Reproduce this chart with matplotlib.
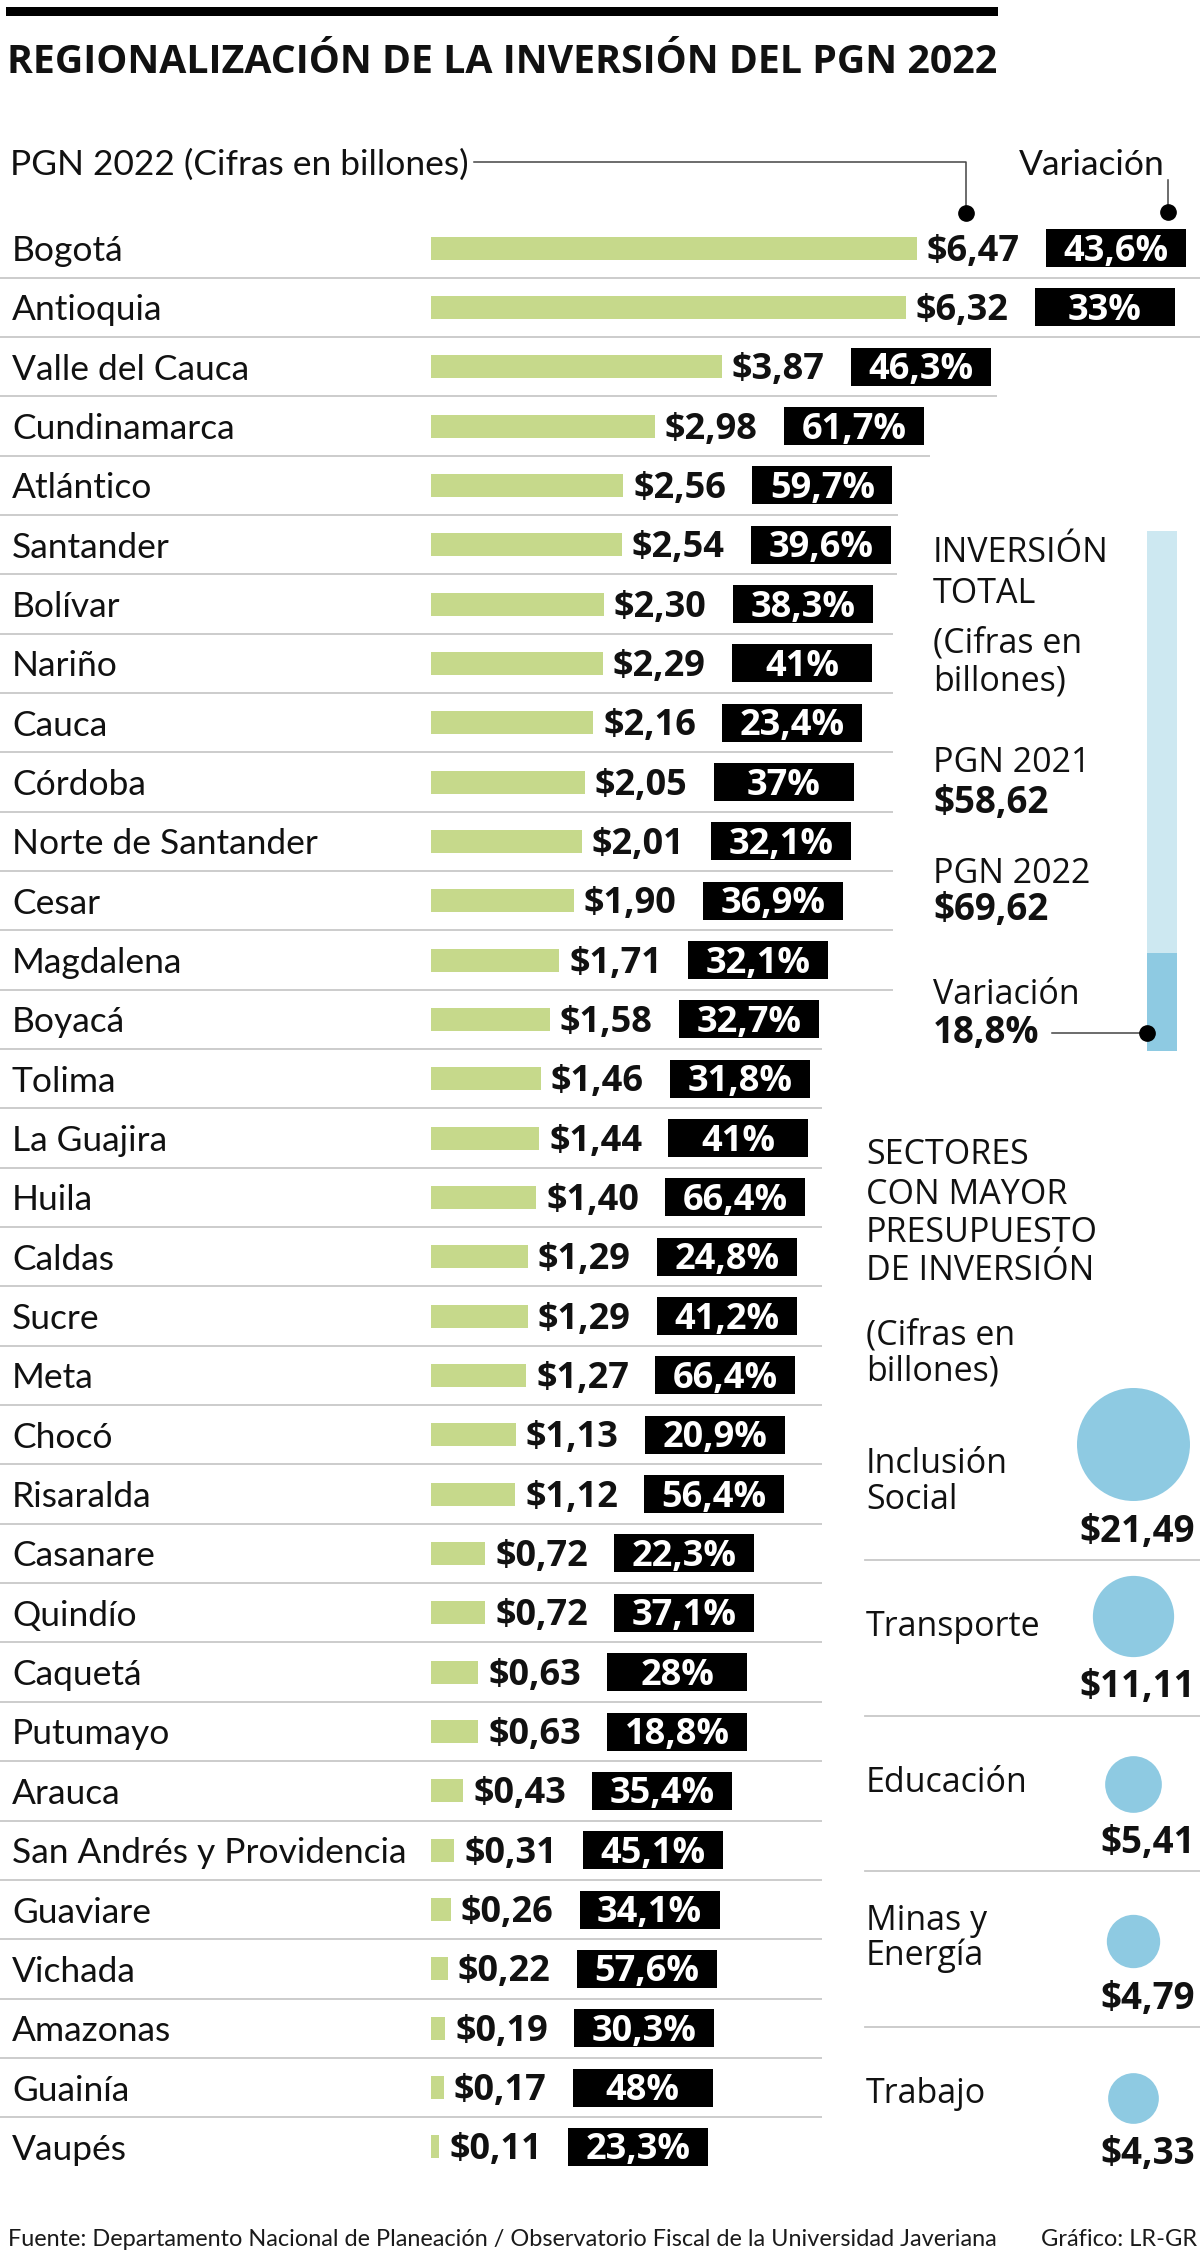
import matplotlib
matplotlib.use("Agg")
import matplotlib.pyplot as plt
from matplotlib.patches import Rectangle

# datos
regiones = ["Bogotá", "Antioquia", "Valle del Cauca", "Cundinamarca", "Atlántico",
            "Santander", "Bolívar", "Nariño", "Cauca", "Córdoba", "Norte de Santander",
            "Cesar", "Magdalena", "Boyacá", "Tolima", "La Guajira", "Huila", "Caldas",
            "Sucre", "Meta", "Chocó", "Risaralda", "Casanare", "Quindío", "Caquetá",
            "Putumayo", "Arauca", "San Andrés y Providencia", "Guaviare", "Vichada",
            "Amazonas", "Guainía", "Vaupés"]
pgn_2022 = [6.47, 6.32, 3.87, 2.98, 2.56, 2.54, 2.30, 2.29, 2.16, 2.05, 2.01,
            1.90, 1.71, 1.58, 1.46, 1.44, 1.40, 1.29, 1.29, 1.27, 1.13, 1.12,
            0.72, 0.72, 0.63, 0.63, 0.43, 0.31, 0.26, 0.22, 0.19, 0.17, 0.11]
variacion = [43.6, 33, 46.3, 61.7, 59.7, 39.6, 38.3, 41, 23.4, 37, 32.1,
             36.9, 32.1, 32.7, 31.8, 41, 66.4, 24.8, 41.2, 66.4, 20.9, 56.4,
             22.3, 37.1, 28, 18.8, 35.4, 45.1, 34.1, 57.6, 30.3, 48, 23.3]

sectores = ["Inclusión\nSocial", "Transporte", "Educación", "Minas y\nEnergía", "Trabajo"]
presupuesto_sector = [21.49, 11.11, 5.41, 4.79, 4.33]

total_2021 = 58.62
total_2022 = 69.62
variacion_total = 18.8


def money(v):
    return "$" + f"{v:.2f}".replace(".", ",")


def pct(v):
    s = f"{v:g}".replace(".", ",")
    return s + "%"


W, H = 1200, 2253
fig = plt.figure(figsize=(W / 100, H / 100), dpi=100)
fig.patch.set_facecolor("white")

thin = dict(family=["Lato", "DejaVu Sans"], fontsize=25.5, color="#111111")
reg = dict(family=["Open Sans", "DejaVu Sans"], fontsize=24.5, color="#111111")
bold = dict(family=["Open Sans", "DejaVu Sans"], fontweight="bold", fontsize=26, color="#111111")
bold_big = {**bold, "fontsize": 26.5}

bg = fig.add_axes([0, 0, 1, 1])
bg.set_xlim(0, W)
bg.set_ylim(H, 0)
bg.axis("off")

# cabecera
bg.add_patch(Rectangle((6, 7), 992, 9, color="black", lw=0))
title = bg.text(7, 73, "REGIONALIZACIÓN DE LA INVERSIÓN DEL PGN 2022", va="baseline",
                family=["Open Sans", "DejaVu Sans"], fontweight="bold", fontsize=28, color="#111111")
bg.text(10, 175, "PGN 2022 (Cifras en billones)", va="baseline", **thin)
bg.text(1165, 175, "Variación", va="baseline", ha="right", **thin)
bg.plot([474, 966, 966], [162, 162, 213], color="#444444", lw=1.1)
bg.plot([1168, 1168], [180, 212], color="#444444", lw=1.1)
bg.plot([966, 1168], [213, 212], "o", color="black", ms=11)

# barras por región
PX = 75.1
ROW0, ROW_H = 248, 59.34
n = len(regiones)
top = ROW0 - ROW_H / 2
bottom = ROW0 + (n - 0.5) * ROW_H
ax = fig.add_axes([431 / W, 1 - bottom / H, (W - 431) / W, (bottom - top) / H])
ax.set_xlim(0, (W - 431) / PX)
ax.set_ylim(n - 0.5, -0.5)
ax.axis("off")
ax.patch.set_alpha(0)

ax.barh(range(n), pgn_2022, height=23 / ROW_H, color="#c6d98b")
for i, (v, p) in enumerate(zip(pgn_2022, variacion)):
    ax.text(v + 10 / PX, i + 12.5 / ROW_H, money(v), ha="left", va="baseline", **bold)
    x0 = v + 129 / PX
    ax.add_patch(Rectangle((x0, i - 19 / ROW_H), 140 / PX, 38 / ROW_H, color="black", lw=0))
    ax.text(x0 + 70 / PX, i + 12.5 / ROW_H, pct(p), ha="center", va="baseline",
            **{**bold, "color": "white"})

for i, name in enumerate(regiones):
    bg.text(12, ROW0 + i * ROW_H + 13, name, va="baseline", **thin)

# separadores
for i in range(n - 1):
    yy = ROW0 + (i + 0.5) * ROW_H
    if i < 2:
        x1 = W
    elif i < 13:
        x1 = max(431 + pgn_2022[i] * PX + 275, 893)
    else:
        x1 = 822
    bg.plot([0, x1], [yy, yy], color="#c8c8c8", lw=1.3, solid_capstyle="butt")

# inversión total
tx = 933
for txt, yc, st in [("INVERSIÓN", 550, reg), ("TOTAL", 591, reg),
                    ("(Cifras en", 640, reg), ("billones)", 678, reg),
                    ("PGN 2021", 760, reg), (money(total_2021), 801, bold_big),
                    ("PGN 2022", 871, reg), (money(total_2022), 908, bold_big),
                    ("Variación", 992, reg), (pct(variacion_total), 1031, bold_big)]:
    bg.text(tx, yc + 12, txt, va="baseline", **st)
bg.plot([1052, 1147], [1033, 1033], color="#444444", lw=1.1)

ax2 = fig.add_axes([1147 / W, 1 - 1051 / H, 30 / W, 520 / H])
ax2.bar(0, 100, width=1, color="#cde8f1")
ax2.bar(0, variacion_total, width=1, color="#8ecae2")
ax2.set_xlim(-0.5, 0.5)
ax2.set_ylim(0, 100)
ax2.axis("off")
fig.add_artist(plt.Line2D([1147 / W], [1 - 1033 / H], marker="o", color="black", ms=11))

# sectores
for txt, yc in [("SECTORES", 1152), ("CON MAYOR", 1192), ("PRESUPUESTO", 1230),
                ("DE INVERSIÓN", 1268), ("(Cifras en", 1332), ("billones)", 1368)]:
    bg.text(866, yc + 12, txt, va="baseline", **reg)

SLOT0, SLOT_H = 1529, 155.5
for k, (s, v) in enumerate(zip(sectores, presupuesto_sector)):
    ly = SLOT0 + k * SLOT_H
    r = 12.19 * v ** 0.5
    bg.scatter([1133], [ly - r - 28], s=v * 308, color="#8ecae2", lw=0)
    bg.text(1195, ly + 13, money(v), ha="right", va="baseline", **bold_big)
    name_y = ly - 47 if "\n" in s and k == 0 else ly - 57
    bg.text(866, name_y, s, va="center", linespacing=1.05, **reg)
    if k < len(sectores) - 1:
        bg.plot([865, W], [ly + 31, ly + 31], color="#c8c8c8", lw=1.3)

# pie
foot = bg.text(8, 2246, "Fuente: Departamento Nacional de Planeación / Observatorio Fiscal de la Universidad Javeriana",
               va="baseline", family=["Lato", "DejaVu Sans"], fontsize=17, color="#1a1a1a")
bg.text(1197, 2246, "Gráfico: LR-GR", ha="right", va="baseline",
        family=["Lato", "DejaVu Sans"], fontsize=17, color="#1a1a1a")

renderer = fig.canvas.get_renderer()
for t, width in [(title, 991), (foot, 987)]:
    w = t.get_window_extent(renderer).width
    t.set_fontsize(t.get_fontsize() * width / w)

fig.savefig("out.png", dpi=100)
